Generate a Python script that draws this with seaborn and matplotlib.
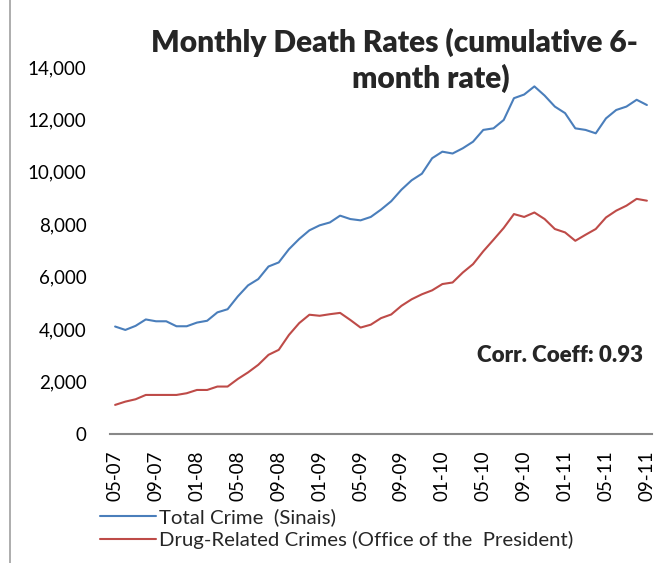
import pandas as pd
import matplotlib.pyplot as plt
import seaborn as sns
from matplotlib.lines import Line2D
from matplotlib.ticker import FuncFormatter

# monthly categories, 05-07 .. 09-11
months = pd.date_range("2007-05-01", "2011-09-01", freq="MS").strftime("%m-%y").tolist()

total_crime = [4100, 3970, 4125, 4370, 4300, 4300, 4110, 4110, 4250, 4320,
               4640, 4760, 5250, 5670, 5910, 6390, 6545, 7050, 7440, 7770,
               7960, 8070, 8330, 8200, 8150, 8280, 8560, 8880, 9320, 9680,
               9930, 10520, 10770, 10700, 10900, 11150, 11600, 11660, 11980, 12810,
               12950, 13260, 12910, 12490, 12240, 11660, 11600, 11470, 12040, 12360,
               12490, 12750, 12550]
drug_crime = [1110, 1235, 1325, 1490, 1490, 1490, 1490, 1555, 1680, 1680,
              1810, 1810, 2100, 2350, 2640, 3020, 3210, 3780, 4230, 4550,
              4510, 4570, 4620, 4350, 4060, 4170, 4420, 4560, 4890, 5140,
              5330, 5480, 5720, 5780, 6160, 6480, 6970, 7410, 7860, 8390,
              8280, 8450, 8200, 7820, 7690, 7370, 7600, 7820, 8260, 8520,
              8710, 8970, 8900]
series_names = ["Total Crime  (Sinais)", "Drug-Related Crimes (Office of the  President)"]
y_ticks = [0, 2000, 4000, 6000, 8000, 10000, 12000, 14000]

n = len(months)
df = pd.DataFrame({
    "idx": list(range(n)) * 2,
    "value": total_crime + drug_crime,
    "series": [series_names[0]] * n + [series_names[1]] * n,
})

sns.set_style("white")
plt.rcParams["font.family"] = ["Lato", "DejaVu Sans"]

fig = plt.figure(figsize=(6.7, 5.63), dpi=100)
ax = fig.add_axes([110 / 670, 1 - 434 / 563, 542 / 670, 367 / 563])
sns.lineplot(data=df, x="idx", y="value", hue="series",
             palette=["#4A7EBB", "#BE4B48"], linewidth=1.5, ax=ax, legend=True)

ax.set_xlim(-0.5, n - 0.5)
ax.set_ylim(0, 14000)
ax.set_yticks(y_ticks)
ax.yaxis.set_major_formatter(FuncFormatter(lambda v, p: f"{int(v):,}"))
ax.set_xticks(range(0, n, 4))
ax.set_xticklabels(months[::4], rotation=90)
ax.tick_params(axis="both", length=0, labelsize=13.5, colors="black")
ax.tick_params(axis="y", pad=17)
ax.tick_params(axis="x", pad=12)
for s in ["left", "top", "right"]:
    ax.spines[s].set_visible(False)
ax.spines["bottom"].set_color("#888888")
ax.spines["bottom"].set_linewidth(1.5)
ax.set_xlabel(None)
ax.set_ylabel(None)

handles, labels = ax.get_legend_handles_labels()
ax.get_legend().remove()
fig.legend(handles, labels, loc="upper left", bbox_to_anchor=(100 / 670, 1 - 508 / 563),
           frameon=False, fontsize=14.7, borderpad=0, borderaxespad=0,
           handlelength=2.75, handletextpad=0.15, labelspacing=0.25)

fig.text(394 / 670, 1 - 42 / 563, "Monthly Death Rates (cumulative 6-",
         ha="center", va="center", fontsize=21.5, fontweight="heavy")
fig.text(431 / 670, 1 - 78 / 563, "month rate)",
         ha="center", va="center", fontsize=21.5, fontweight="heavy")
fig.text(643 / 670, 1 - 355 / 563, "Corr. Coeff: 0.93",
         ha="right", va="center", fontsize=16, fontweight="heavy")

fig.add_artist(Line2D([10 / 670, 10 / 670], [0, 1], color="#A0A0A0", lw=1.2,
                      transform=fig.transFigure))

plt.savefig("out.png", dpi=100)
